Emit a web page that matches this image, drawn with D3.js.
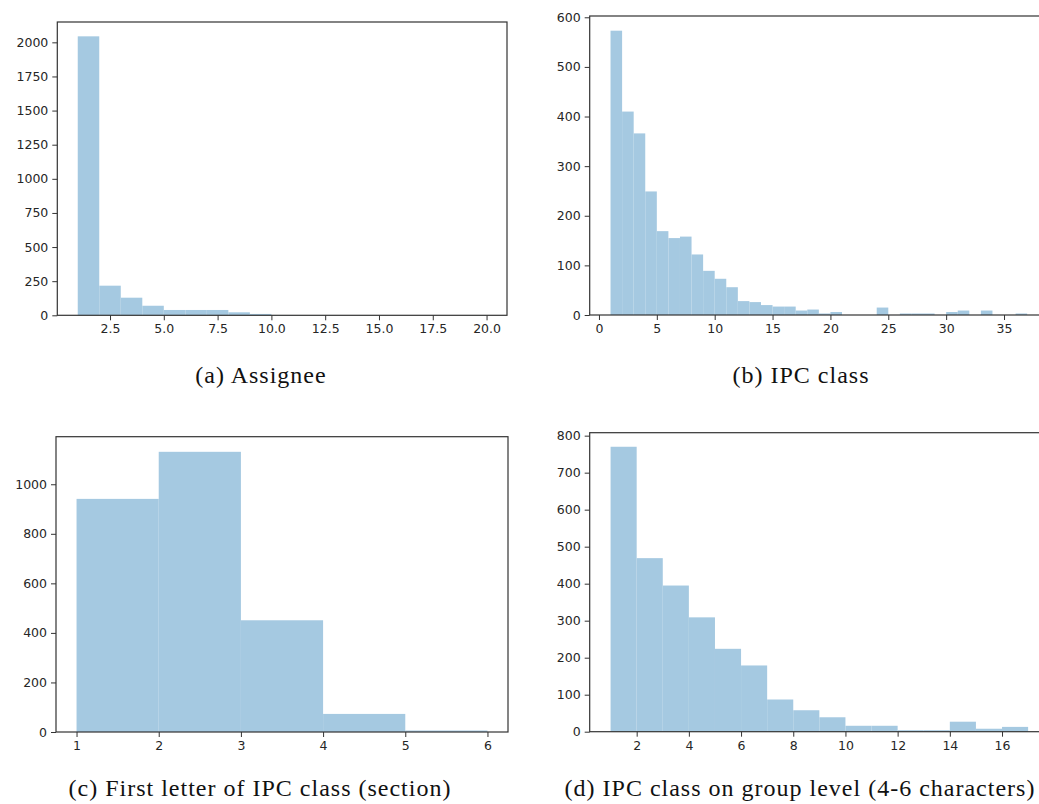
<!DOCTYPE html>
<html>
<head>
<meta charset="utf-8">
<script src="https://cdn.jsdelivr.net/npm/d3@7"></script>
<style>
    body { margin: 0; background: #fff; }
    svg { display: block; }
    .tick text { font-family: "DejaVu Sans", sans-serif; font-size: 12.5px; fill: #262626; }
    .caption { font-family: "Liberation Serif", serif; font-size: 24px; letter-spacing: 1px; fill: #111; }
</style>
</head>
<body>
<div id="chart"></div>
<script>

// counts per bin (bins are 1 unit wide, first bin starts at 1)
const assigneeCounts = [2044, 217, 129, 70, 39, 39, 39, 22, 10, 2, 1, 1, 0, 1, 0, 0, 0, 0, 1];
const ipcClassCounts = [573, 410, 366, 249, 169, 155, 158, 122, 89, 73, 56, 28, 26, 20, 17, 17, 9, 11, 3, 6,
    0, 0, 0, 15, 0, 3, 3, 3, 0, 6, 9, 0, 9, 0, 0, 3];
const sectionCounts = [941, 1131, 451, 73, 6];
const groupCounts = [770, 469, 395, 309, 224, 179, 87, 58, 39, 16, 16, 4, 4, 27, 8, 13];

const assigneeTicks = [2.5, 5, 7.5, 10, 12.5, 15, 17.5, 20];
const ipcClassTicks = [0, 5, 10, 15, 20, 25, 30, 35];
const sectionTicks = [1, 2, 3, 4, 5, 6];
const groupTicks = [2, 4, 6, 8, 10, 12, 14, 16];

const captions = [
    "(a) Assignee",
    "(b) IPC class",
    "(c) First letter of IPC class (section)",
    "(d) IPC class on group level (4-6 characters)"
];

const barColor = "#a5c9e1";

const svg = d3.select("#chart").append("svg")
    .attr("width", 1039)
    .attr("height", 804);

function drawHist(box, counts, xDomain, yDomain, xTicks, yStep, xFormat) {
    const x = d3.scaleLinear().domain(xDomain).range([box.left, box.right]);
    const y = d3.scaleLinear().domain(yDomain).range([box.bottom, box.top]);
    const g = svg.append("g");

    const bins = counts.map((c, i) => ({ x0: 1 + i, x1: 2 + i, count: c }));

    g.selectAll("rect")
        .data(bins.filter(d => d.count > 0))
        .enter()
        .append("rect")
        .attr("x", d => x(d.x0))
        .attr("width", d => x(d.x1) - x(d.x0))
        .attr("y", d => y(d.count))
        .attr("height", d => y(0) - y(d.count))
        .style("fill", barColor);

    const yTicks = d3.range(0, yDomain[1] + 0.001, yStep);

    const xAxis = g.append("g")
        .attr("transform", `translate(0,${box.bottom})`)
        .call(d3.axisBottom(x).tickValues(xTicks).tickSize(5).tickPadding(4).tickFormat(d3.format(xFormat)));
    const yAxis = g.append("g")
        .attr("transform", `translate(${box.left},0)`)
        .call(d3.axisLeft(y).tickValues(yTicks).tickSize(5).tickPadding(4).tickFormat(d3.format("d")));

    [xAxis, yAxis].forEach(a => {
        a.select(".domain").remove();
        a.selectAll(".tick line").attr("stroke", "#333").attr("stroke-width", 1);
    });

    // frame
    g.append("rect")
        .attr("x", box.left)
        .attr("y", box.top)
        .attr("width", box.right - box.left)
        .attr("height", box.bottom - box.top)
        .attr("fill", "none")
        .attr("stroke", "#333")
        .attr("stroke-width", 1.2);
}

drawHist({ left: 57.3, right: 507, top: 22, bottom: 315.3 }, assigneeCounts,
    [0.05, 20.95], [0, 2149], assigneeTicks, 250, ".1f");
drawHist({ left: 589.7, right: 1048, top: 16, bottom: 315 }, ipcClassCounts,
    [-0.8, 38.8], [0, 602.6], ipcClassTicks, 100, "d");
drawHist({ left: 56, right: 508, top: 436.7, bottom: 732 }, sectionCounts,
    [0.75, 6.25], [0, 1192], sectionTicks, 200, "d");
drawHist({ left: 589.7, right: 1049, top: 432.7, bottom: 731.7 }, groupCounts,
    [0.2, 17.8], [0, 808], groupTicks, 100, "d");

const captionPos = [[261, 383], [801, 383], [260, 796], [800, 796]];

svg.selectAll("text.caption")
    .data(captions)
    .enter()
    .append("text")
    .attr("class", "caption")
    .attr("x", (d, i) => captionPos[i][0])
    .attr("y", (d, i) => captionPos[i][1])
    .attr("text-anchor", "middle")
    .text(d => d);

</script>
</body>
</html>
